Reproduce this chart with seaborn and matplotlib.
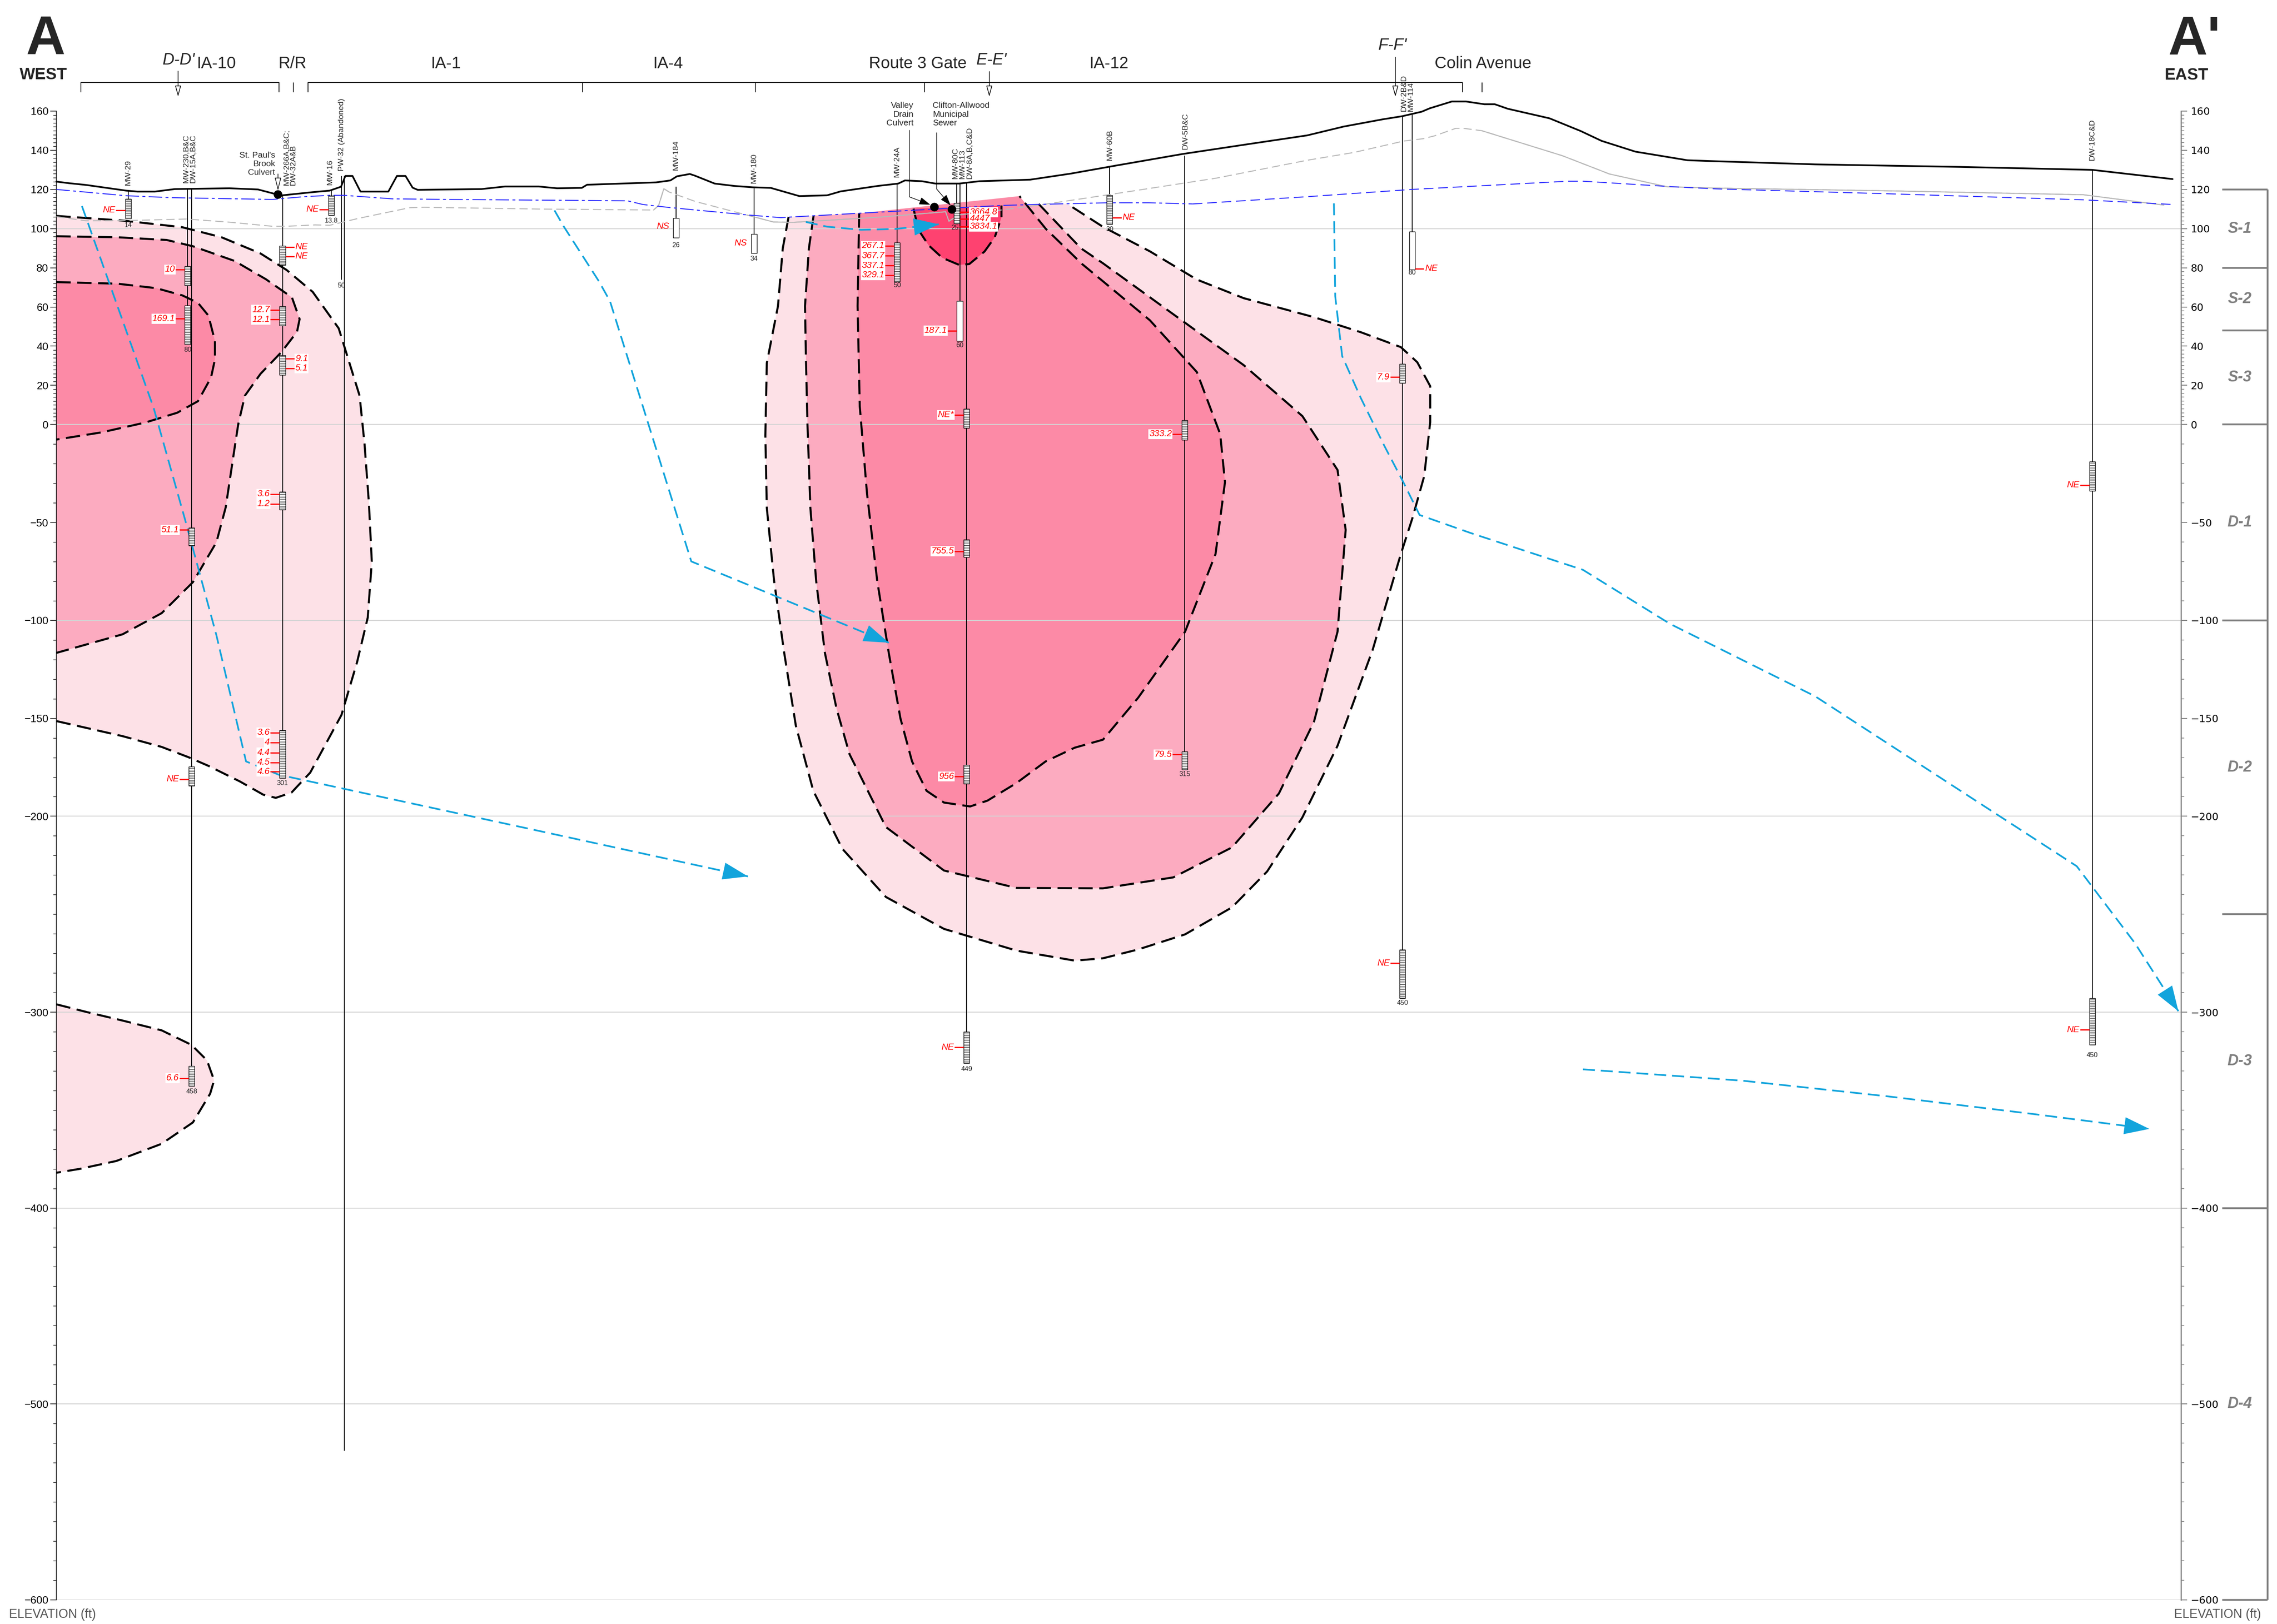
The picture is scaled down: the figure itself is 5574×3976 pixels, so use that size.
# cross section A - A' (west to east), plume contours, wells and flow paths

import numpy as np
import pandas as pd
import matplotlib
matplotlib.use("Agg")
import matplotlib.pyplot as plt
from matplotlib.patches import Rectangle, Polygon
import seaborn as sns

sns.set_theme(style="white")
ARIAL = ['Liberation Sans', 'DejaVu Sans']
plt.rcParams['font.family'] = ARIAL
plt.rcParams['hatch.linewidth'] = 0.7
plt.rcParams['hatch.color'] = 'black'

# ---- data: distance along section (drawing units) / elevation (ft) ----
ground_x = [38.8, 47.4, 59.2, 86.8, 94.7, 106.6, 120.4, 157.9, 177.6, 189.4, 194.4, 215.0, 227.0, 234.8,
            237.8, 242.7, 248.2, 267.4, 273.3, 279.2, 284.1, 287.6, 331.5, 347.7, 371.0, 383.6, 400.6,
            404.2, 451.7, 461.6, 466.1, 475.0, 478.6, 492.1, 505.5, 518.1, 530.7, 550.4, 569.5, 578.8,
            604.5, 618.5, 623.1, 634.8, 644.1, 660.4, 674.4, 709.4, 737.4, 767.7, 814.3, 861.0, 900.1,
            925.2, 952.1, 965.6, 979.0, 984.4, 999.7, 1009.5, 1022.1, 1029.3, 1038.2, 1067.0, 1088.5,
            1102.8, 1126.1, 1162.0, 1181.4, 1250.0, 1350.0, 1440.7, 1496.0]
ground_z = [124.0, 123.2, 122.3, 119.4, 118.9, 118.9, 120.2, 120.6, 120.0, 117.7, 117.0, 118.6, 119.4, 121.4,
            126.9, 126.9, 118.9, 118.9, 126.9, 126.9, 120.9, 119.8, 120.2, 121.5, 121.5, 120.6, 120.8,
            122.4, 123.6, 124.6, 126.7, 127.9, 127.0, 123.0, 121.8, 121.1, 120.8, 116.6, 117.0, 119.0,
            121.8, 123.0, 124.6, 124.2, 123.0, 123.0, 124.2, 125.0, 128.1, 132.1, 138.1, 143.3, 147.6,
            152.1, 155.8, 157.4, 159.7, 161.4, 164.9, 164.9, 163.5, 163.5, 161.2, 156.3, 149.8,
            144.8, 139.3, 134.9, 134.4, 132.8, 131.5, 130.0, 125.3]

wt_x = [38.8, 86.8, 118.4, 187.5, 195.3, 209.2, 227.0, 236.8, 270.3, 309.4, 432.0, 442.8, 460.7, 514.5,
        537.8, 541.5, 600.0, 688.4, 716.4, 763.0, 791.0, 812.0, 821.3]
wt_z = [120.0, 116.8, 115.8, 114.9, 115.4, 116.3, 117.0, 117.0, 115.2, 114.9, 114.2, 112.3, 110.8, 107.0,
        105.6, 105.8, 108.2, 111.8, 112.4, 113.2, 113.2, 112.8, 112.6]
wt_inf_x = [821.3, 900.1, 971.9, 1079.5, 1090.3, 1151.2, 1181.4, 1300.0, 1434.6, 1496.8]
wt_inf_z = [112.6, 116.3, 120.0, 124.2, 124.2, 121.4, 120.3, 117.8, 114.7, 112.3]

rock_x = [38.8, 59.2, 86.8, 128.3, 157.9, 187.5, 197.3, 217.0, 227.0, 246.6, 282.2, 292.0, 309.4, 371.0,
          450.0, 453.5, 457.1, 460.7, 478.6, 514.5, 532.5, 546.2, 604.5, 651.1, 653.4, 660.4, 688.4,
          721.0, 767.7, 837.7, 900.1, 932.4, 966.5, 979.9, 988.0, 1002.4, 1007.7, 1020.3, 1075.9,
          1108.2, 1147.7, 1181.4, 1300.0, 1434.6, 1490.0]
rock_z = [106.1, 104.0, 104.1, 104.9, 103.3, 101.2, 101.2, 101.9, 101.7, 105.2, 110.7, 110.9, 110.7, 110.0,
          109.5, 111.8, 120.4, 118.7, 113.9, 106.9, 103.4, 103.2, 105.8, 108.6, 103.8, 107.0, 109.4,
          112.6, 117.8, 125.8, 134.9, 138.9, 144.7, 145.9, 147.4, 151.2, 151.2, 150.0, 137.2,
          127.9, 121.4, 120.7, 119.3, 117.3, 112.0]
rock_solid = [(450, 461), (514, 700), (1020, 1496)]

# plume outlines
west_outer = [(38.8, 106.5), (86.1, 104.0), (125.6, 100.7), (152.5, 95.6), (179.4, 87.3), (197.3, 78.9),
              (215.3, 67.7), (233.2, 49.1), (247.6, 14.7), (251.0, -10.0), (254.0, -40.0), (256.0, -70.0),
              (253.2, -98.6), (245.9, -121.2), (235.1, -148.3), (213.6, -177.7), (200.7, -187.9),
              (189.9, -190.6), (181.3, -189.0), (165.1, -182.2), (143.6, -174.3), (129.6, -169.8),
              (111.3, -164.6), (84.4, -159.1), (38.8, -151.4)]
west_mid = [(38.8, 96.1), (80.7, 95.6), (114.8, 94.2), (132.8, 91.0), (161.5, 83.5), (183.0, 74.2),
            (201.0, 64.9), (206.3, 53.8), (204.5, 47.3), (193.8, 37.0), (179.4, 25.9), (168.6, 14.7),
            (164.0, 0.0), (161.4, -12.6), (155.4, -42.3), (149.0, -60.1), (132.8, -80.5), (111.3, -96.3),
            (84.4, -107.1), (38.8, -116.6)]
west_core = [(38.8, 72.7), (80.7, 71.9), (107.6, 69.6), (125.6, 65.9), (136.3, 62.1), (143.5, 55.6),
             (148.0, 42.6), (148.0, 33.3), (145.3, 24.0), (136.3, 11.9), (122.0, 6.0), (100.0, 1.0),
             (70.0, -4.0), (38.8, -7.7)]
west_deep = [(38.8, -296.0), (60.0, -300.0), (84.4, -304.3), (111.3, -309.3), (131.8, -316.7),
             (142.5, -324.6), (147.4, -334.8), (144.7, -341.6), (132.8, -356.3), (111.3, -367.2),
             (80.0, -376.0), (55.0, -380.0), (38.8, -382.0)]
center_outer = [(543.0, 106.0), (539.0, 90.0), (535.7, 60.5), (528.0, 31.4), (527.0, -5.6), (528.0, -42.6),
                (533.0, -79.7), (540.0, -116.7), (548.0, -153.8), (560.0, -187.0), (580.0, -216.6),
                (610.0, -241.2), (650.0, -257.5), (700.0, -268.6), (740.0, -273.7), (759.5, -272.5),
                (783.7, -268.0), (816.0, -260.3), (848.3, -246.5), (872.5, -228.2), (896.7, -200.7),
                (921.0, -164.0), (945.2, -115.0), (964.6, -66.1), (972.6, -47.7), (980.7, -26.3),
                (984.8, 1.2), (984.8, 19.6), (975.9, 31.8), (964.6, 39.5), (937.1, 47.1), (904.8, 54.8),
                (856.4, 64.5), (824.1, 74.0), (791.8, 88.4), (759.5, 100.9), (735.0, 112.6)]
center_mid = [(560.2, 106.6), (557.0, 90.0), (554.3, 60.5), (555.0, 31.5), (556.0, 0.0), (558.0, -42.6),
              (562.0, -80.0), (568.0, -116.6), (576.0, -145.0), (585.0, -168.4), (610.0, -205.5),
              (650.0, -227.7), (700.0, -236.6), (759.5, -236.8), (807.9, -231.2), (848.3, -215.9),
              (880.6, -188.4), (904.8, -151.7), (921.0, -105.8), (926.6, -53.8), (921.0, -23.2),
              (896.8, 4.3), (856.4, 30.3), (807.9, 56.3), (759.5, 82.3), (744.4, 89.9), (715.2, 112.6)]
center_core = [(591.6, 107.8), (590.5, 60.5), (592.0, 9.3), (597.0, -35.3), (604.0, -79.7), (612.0, -116.7),
               (620.0, -150.0), (628.0, -172.0), (638.0, -187.0), (650.0, -193.0), (668.0, -195.0),
               (680.0, -192.0), (700.0, -183.0), (720.0, -172.0), (740.0, -165.0), (759.5, -160.9),
               (783.7, -139.5), (816.0, -105.8), (837.0, -66.1), (843.5, -29.4), (840.2, -4.9),
               (824.1, 26.8), (791.8, 53.2), (759.5, 73.1), (745.0, 82.0), (720.0, 100.0), (702.0, 116.6)]
center_hot = [(629.0, 110.2), (632.4, 99.4), (639.4, 91.5), (648.8, 85.1), (660.4, 81.5), (667.4, 81.9),
              (677.9, 88.3), (684.9, 95.5), (689.6, 105.8), (689.6, 111.8)]

# groundwater flow paths
flow_west_x = [56.4, 105.8, 127.5, 149.0, 169.4, 192.0, 365.7, 515.0]
flow_west_z = [111.5, 8.4, -48.8, -107.6, -172.0, -178.8, -206.6, -230.7]
flow_mid_x = [381.8, 388.0, 412.3, 420.0, 476.0, 612.0]
flow_mid_z = [109.3, 101.3, 73.2, 63.0, -69.9, -111.4]
flow_top_x = [554.9, 569.5, 592.8, 616.1, 646.4]
flow_top_z = [103.4, 101.0, 99.4, 99.8, 102.2]
flow_east_x = [918.5, 919.4, 924.2, 937.1, 953.3, 966.2, 977.5, 1012.7, 1090.0, 1150.0, 1250.0, 1350.0,
               1430.0, 1470.0, 1500.0]
flow_east_z = [112.9, 65.5, 34.9, 13.4, -11.0, -29.3, -46.2, -55.4, -74.2, -101.8, -138.8, -187.0,
               -225.5, -264.7, -299.5]
flow_deep_x = [1090.0, 1200.0, 1300.0, 1400.0, 1480.0]
flow_deep_z = [-329.2, -335.0, -343.0, -352.0, -359.6]

# wells
well_x = [88.2, 129.2, 132.0, 194.5, 228.2, 235.1, 237.2, 465.5, 519.2, 617.8, 658.8, 660.9, 665.6,
          764.0, 815.7, 965.7, 972.3, 1440.7]
well_top = [118.9, 120.5, 120.5, 117.0, 119.4, 126.9, 126.9, 121.5, 121.0, 123.0, 123.0, 123.0, 123.0,
            131.7, 137.3, 157.2, 158.1, 130.0]
well_bottom = [105.2, 40.9, -337.8, -180.6, 106.8, 73.8, -524.0, 95.3, 87.4, 72.9, 102.6, 42.7, -326.0,
               102.2, -176.2, -293.0, 79.0, -316.7]

scr_x = [88.2, 129.2, 129.2, 132.0, 132.0, 132.0, 194.5, 194.5, 194.5, 194.5, 194.5, 228.2, 465.5,
         519.2, 617.8, 658.8, 660.9, 665.6, 665.6, 665.6, 665.6, 764.0, 815.7, 815.7, 965.7, 965.7,
         972.3, 1440.7, 1440.7]
scr_top = [115.1, 80.7, 60.7, -52.7, -174.7, -327.5, 91.2, 60.3, 35.2, -34.3, -156.2, 116.8, 105.3,
           97.3, 92.8, 113.0, 63.0, 7.9, -58.8, -173.8, -310.0, 117.1, 2.1, -167.0, 30.9, -268.0,
           98.4, -19.0, -293.0]
scr_bot = [105.2, 71.0, 40.9, -61.9, -184.5, -337.8, 81.4, 50.5, 25.2, -43.6, -180.6, 106.8, 95.3,
           87.4, 72.9, 102.6, 42.7, -1.8, -67.7, -183.4, -326.0, 102.2, -7.9, -176.2, 21.1, -293.0,
           79.0, -34.0, -316.7]
scr_hatch = [1, 1, 1, 1, 1, 1, 1, 1, 1, 1, 1, 1, 0,
             0, 1, 1, 0, 1, 1, 1, 1, 1, 1, 1, 1, 1,
             0, 1, 1]

res_text = ['NE', '10', '169.1', '51.1', 'NE', '6.6',
            'NE', 'NE', '12.7', '12.1', '9.1', '5.1', '3.6', '1.2', '3.6', '4', '4.4', '4.5', '4.6',
            'NE', 'NS', 'NS', '267.1', '367.7', '337.1', '329.1', '3664.8', '4447', '3834.1',
            '187.1', 'NE*', '755.5', '956', 'NE', 'NE', '333.2', '79.5', '7.9', 'NE', 'NE', 'NE', 'NE']
res_x = [88.2, 129.2, 129.2, 132.0, 132.0, 132.0,
         194.5, 194.5, 194.5, 194.5, 194.5, 194.5, 194.5, 194.5, 194.5, 194.5, 194.5, 194.5, 194.5,
         228.2, 465.5, 519.2, 617.8, 617.8, 617.8, 617.8, 658.8, 658.8, 658.8,
         660.9, 665.6, 665.6, 665.6, 665.6, 764.0, 815.7, 815.7, 965.7, 965.7, 972.3, 1440.7, 1440.7]
res_z = [109.4, 79.1, 54.0, -53.8, -181.1, -333.7,
         90.6, 85.8, 58.5, 53.6, 33.6, 28.7, -35.5, -40.5, -157.3, -162.3, -167.5, -172.5, -177.2,
         109.8, 101.0, 92.6, 91.2, 86.1, 81.1, 76.2, 108.4, 105.0, 101.0,
         47.9, 4.9, -64.7, -179.7, -318.0, 105.6, -4.9, -168.5, 24.2, -275.0, 79.6, -31.0, -309.0]
res_side = ['L', 'L', 'L', 'L', 'L', 'L',
            'R', 'R', 'L', 'L', 'R', 'R', 'L', 'L', 'L', 'L', 'L', 'L', 'L',
            'L', 'N', 'N', 'L', 'L', 'L', 'L', 'R', 'R', 'R',
            'L', 'L', 'L', 'L', 'L', 'R', 'L', 'L', 'L', 'L', 'R', 'L', 'L']

dep_text = ['14', '80', '458', '301', '13.8', '50', '26', '34', '50', '25', '60', '449', '30', '315',
            '450', '80', '450']
dep_x = [88.2, 129.2, 132.0, 194.5, 228.2, 235.1, 465.5, 519.2, 617.8, 657.6, 660.9, 665.6, 764.0,
         815.7, 965.7, 972.3, 1440.7]
dep_z = [101.7, 38.1, -340.5, -183.1, 104.0, 70.8, 91.6, 84.7, 71.0, 100.5, 40.4, -329.0, 99.7,
         -178.6, -295.4, 77.5, -322.0]

name_text = ['MW-29', 'MW-230,B&C\nDW-15A,B&C', 'MW-266A,B&C;\nDW-32A&B', 'MW-16', 'PW-32 (Abandoned)',
             'MW-184', 'MW-180', 'MW-24A', 'MW-80C\nMW-113\nDW-8A,B,C&D', 'MW-60B', 'DW-5B&C',
             'DW-2B&D\nMW-114', 'DW-18C&D']
name_x = [88.2, 130.6, 199.6, 227.3, 235.2, 465.5, 519.2, 617.8, 662.8, 764.2, 816.2, 969.0, 1440.7]
name_z = [122.0, 123.2, 122.0, 122.3, 129.3, 129.7, 123.0, 126.2, 125.4, 134.7, 140.3, 159.7, 134.7]

culvert_x = [191.4, 643.4, 655.5]
culvert_z = [117.4, 111.0, 109.8]

sec_text = ['IA-10', 'R/R', 'IA-1', 'IA-4', 'Route 3 Gate', 'IA-12', 'Colin Avenue']
sec_x = [149.0, 201.4, 307.0, 460.0, 631.9, 763.6, 1021.2]
cut_text = ["D-D'", "E-E'", "F-F'"]
cut_x = [123.0, 682.7, 958.8]
cut_z = [183.7, 183.8, 191.2]
cut_arrow_x = [122.6, 681.2, 960.8]
cut_arrow_top = [180.4, 180.2, 187.5]
bracket_spans = [(55.6, 192.0), (212.0, 1007.0)]
bracket_ticks = [55.6, 192.0, 202.0, 212.0, 401.0, 520.0, 636.6, 1007.0, 1020.6]

strat_z = [120, 80, 48, 0, -100, -250, -400, -600]
strat_names = ['S-1', 'S-2', 'S-3', 'D-1', 'D-2', 'D-3', 'D-4']

major_ticks = [160, 140, 120, 100, 80, 60, 40, 20, 0, -50, -100, -150, -200, -300, -400, -500, -600]
grid_z = [100, 0, -100, -200, -300, -400, -500, -600]

# ---- colours ----
PINK1, PINK2, PINK3, PINK4 = '#fde1e7', '#fcabc0', '#fc8aa6', '#fe4270'
CYAN = '#12a4dc'
BLUE = '#2b2bff'
ROCK = '#b9b9b9'
SGRAY = '#808080'
RED = '#ff0000'

XL, XR = 38.8, 1501.8

fig = plt.figure(figsize=(55.74, 39.76), dpi=100)
ax = fig.add_axes([0.02476, 0.01491, 0.93308, 0.91668])
ax.set_xlim(XL, XR)
ax.set_ylim(-600, 160)

ax.hlines(grid_z, XL, XR, color='#d4d4d4', lw=1.6, zorder=1.5)


def plume(pts, color):
    ax.add_patch(Polygon(pts, closed=True, facecolor=color, edgecolor='none', zorder=1))
    xs, zs = zip(*pts)
    ax.plot(xs, zs, color='black', lw=3.6, ls=(0, (7, 3.2)), zorder=2)


for pts, col in [(west_outer, PINK1), (west_mid, PINK2), (west_core, PINK3), (west_deep, PINK1),
                 (center_outer, PINK1), (center_mid, PINK2), (center_core, PINK3), (center_hot, PINK4)]:
    plume(pts, col)

# ground / water table / top of rock (the hill at Colin Avenue rises above the 160 ft frame)
sns.lineplot(x=ground_x, y=ground_z, sort=False, estimator=None, color='black', lw=3.0, ax=ax, zorder=3.5)
ax.lines[-1].set_clip_on(False)
ax.plot(wt_x, wt_z, color=BLUE, lw=1.7, ls=(0, (14, 3.5, 3, 3.5)), zorder=3.4)
ax.plot(wt_inf_x, wt_inf_z, color=BLUE, lw=1.7, ls=(0, (10, 5)), zorder=3.4)
rock = pd.DataFrame({'x': rock_x, 'z': rock_z})
ax.plot(rock.x, rock.z, color=ROCK, lw=1.8, ls=(0, (8, 4)), zorder=3.3)
for a, b in rock_solid:
    seg = rock[(rock.x >= a) & (rock.x <= b)]
    ax.plot(seg.x, seg.z, color=ROCK, lw=1.8, zorder=3.3)

# wells
ax.vlines(well_x, well_bottom, well_top, color='black', lw=1.5, zorder=3)
for x, t, b, h in zip(scr_x, scr_top, scr_bot, scr_hatch):
    ax.add_patch(Rectangle((x - 2.0, b), 4.0, t - b, facecolor='white', edgecolor='black', lw=1.0,
                           hatch='----' if h else None, zorder=5))


# flow paths
def flow(xs, zs):
    ax.plot(xs, zs, color=CYAN, lw=3.0, ls=(0, (7, 3.5)), zorder=4)
    ax.annotate('', xy=(xs[-1], zs[-1]), xytext=(xs[-2], zs[-2]), zorder=4,
                arrowprops=dict(arrowstyle='-|>,head_length=2.2,head_width=0.75', color=CYAN, lw=0,
                                mutation_scale=20, shrinkA=0, shrinkB=0))


for fx, fz in [(flow_west_x, flow_west_z), (flow_mid_x, flow_mid_z), (flow_top_x, flow_top_z),
               (flow_east_x, flow_east_z), (flow_deep_x, flow_deep_z)]:
    flow(fx, fz)

# analytical results
lab_box = dict(boxstyle='square,pad=0.08', fc='white', ec='none')
for txt, x, z, side in zip(res_text, res_x, res_z, res_side):
    if side == 'L':
        ax.plot([x - 2.0, x - 8.5], [z, z], color=RED, lw=2.2, zorder=6, solid_capstyle='butt')
        ax.text(x - 8.8, z, txt, ha='right', va='center', color=RED, fontsize=16, fontstyle='italic',
                bbox=lab_box, zorder=7)
    elif side == 'R':
        ax.plot([x + 2.0, x + 8.5], [z, z], color=RED, lw=2.2, zorder=6, solid_capstyle='butt')
        ax.text(x + 8.8, z, txt, ha='left', va='center', color=RED, fontsize=16, fontstyle='italic',
                bbox=lab_box, zorder=7)
    else:
        ax.text(x - 4.8, z, txt, ha='right', va='center', color=RED, fontsize=16, fontstyle='italic',
                zorder=7)

for txt, x, z in zip(dep_text, dep_x, dep_z):
    ax.text(x, z, txt, ha='center', va='center', fontsize=12, color='#222222', zorder=6)

for txt, x, z in zip(name_text, name_x, name_z):
    ax.text(x, z, txt, rotation=90, ha='center', va='bottom', multialignment='left', fontsize=14,
            linespacing=1.0, zorder=6)

# culverts / sewer
sns.scatterplot(x=culvert_x, y=culvert_z, color='black', s=230, marker='o', edgecolor='none', ax=ax, zorder=6)
ax.text(189.4, 133.0, "St. Paul's\nBrook\nCulvert", ha='right', va='center', fontsize=15, linespacing=1.15)
ax.annotate('', xy=(191.4, 119.5), xytext=(191.4, 127.9),
            arrowprops=dict(arrowstyle='-|>,head_length=1.4,head_width=0.35', fc='white', ec='black',
                            lw=1.1, mutation_scale=14, shrinkA=0, shrinkB=0))
ax.text(628.9, 158.3, 'Valley\nDrain\nCulvert', ha='right', va='center', fontsize=15, linespacing=1.15)
ax.text(642.2, 158.3, 'Clifton-Allwood\nMunicipal\nSewer', ha='left', va='center', fontsize=15,
        linespacing=1.15)
ax.plot([626.2, 626.2], [150.1, 116.2], color='black', lw=1.1, zorder=6)
ax.plot([645.0, 645.0], [148.9, 120.2], color='black', lw=1.1, zorder=6)
ax.annotate('', xy=(640.6, 112.2), xytext=(626.2, 116.2),
            arrowprops=dict(arrowstyle='-|>,head_length=1.2,head_width=0.4', color='black', lw=1.1,
                            mutation_scale=14, shrinkA=0, shrinkB=0))
ax.annotate('', xy=(654.6, 111.8), xytext=(645.0, 120.2),
            arrowprops=dict(arrowstyle='-|>,head_length=1.2,head_width=0.4', color='black', lw=1.1,
                            mutation_scale=14, shrinkA=0, shrinkB=0))

# header: section ends, areas, cross-section arrows
ax.text(31.5, 188.8, 'A', fontsize=96, fontweight='bold', ha='center', va='baseline')
ax.text(29.8, 176.3, 'WEST', fontsize=29, fontweight='bold', ha='center', va='baseline')
ax.text(1511.0, 188.6, "A'", fontsize=96, fontweight='bold', ha='center', va='baseline')
ax.text(1505.5, 176.1, 'EAST', fontsize=29, fontweight='bold', ha='center', va='baseline')
for txt, x in zip(sec_text, sec_x):
    ax.text(x, 181.8, txt, fontsize=29, ha='center', va='baseline')
for txt, x, z in zip(cut_text, cut_x, cut_z):
    ax.text(x, z, txt, fontsize=29, fontstyle='italic', ha='center', va='baseline')
for x, top in zip(cut_arrow_x, cut_arrow_top):
    ax.annotate('', xy=(x, 167.4), xytext=(x, top), annotation_clip=False,
                arrowprops=dict(arrowstyle='-|>,head_length=1.1,head_width=0.3', fc='white', ec='black',
                                lw=1.2, mutation_scale=15, shrinkA=0, shrinkB=0))
for a, b in bracket_spans:
    ax.plot([a, b], [174.7, 174.7], color='black', lw=1.3, clip_on=False)
ax.vlines(bracket_ticks, 169.6, 174.7, color='black', lw=1.3, clip_on=False)

# axes and scales
ax.set_xticks([])
tick_lab = [str(v).replace('-', '\u2212') for v in major_ticks]
minor_ticks = list(range(0, 161, 2)) + list(range(-600, 0, 10))
ax.set_yticks(major_ticks)
ax.set_yticklabels(tick_lab, fontsize=19)
ax.set_yticks(minor_ticks, minor=True)
ax.tick_params(axis='y', which='major', left=True, right=False, length=11, width=1.1, pad=3,
               color='black', labelcolor='black')
ax.tick_params(axis='y', which='minor', left=True, right=False, length=6, width=1.0, color='black')
for s in ['top', 'bottom', 'right']:
    ax.spines[s].set_visible(False)
ax.spines['left'].set_color('black')
ax.spines['left'].set_linewidth(1.1)

ax2 = ax.twinx()
ax2.set_ylim(-600, 160)
ax2.set_yticks(major_ticks)
ax2.set_yticklabels(tick_lab, fontsize=18, fontfamily='DejaVu Sans')
ax2.set_yticks(minor_ticks, minor=True)
ax2.tick_params(axis='y', which='major', right=True, left=False, length=11, width=1.6, pad=6,
                color=SGRAY, labelcolor='black')
ax2.tick_params(axis='y', which='minor', right=True, left=False, length=6, width=1.2, color=SGRAY)
for s in ['top', 'bottom', 'left']:
    ax2.spines[s].set_visible(False)
ax2.spines['right'].set_color(SGRAY)
ax2.spines['right'].set_linewidth(2.0)
ax2.grid(False)

ax.text(36.2, -607.6, 'ELEVATION (ft)', fontsize=22, color='#555555', ha='center', va='center')
ax.text(1527.0, -607.6, 'ELEVATION (ft)', fontsize=22, color='#555555', ha='center', va='center')

# stratigraphic column
ax.hlines(strat_z, 1530.2, 1561.4, color=SGRAY, lw=3.2, clip_on=False)
ax.vlines(1561.4, strat_z[-1], strat_z[0], color=SGRAY, lw=3.2, clip_on=False)
for i, nm in enumerate(strat_names):
    zc = (strat_z[i] + strat_z[i + 1]) / 2
    ax.text(1542.2, zc, nm, fontsize=27, fontweight='bold', fontstyle='italic', color=SGRAY,
            ha='center', va='center')

fig.savefig('out.png', dpi=100)
